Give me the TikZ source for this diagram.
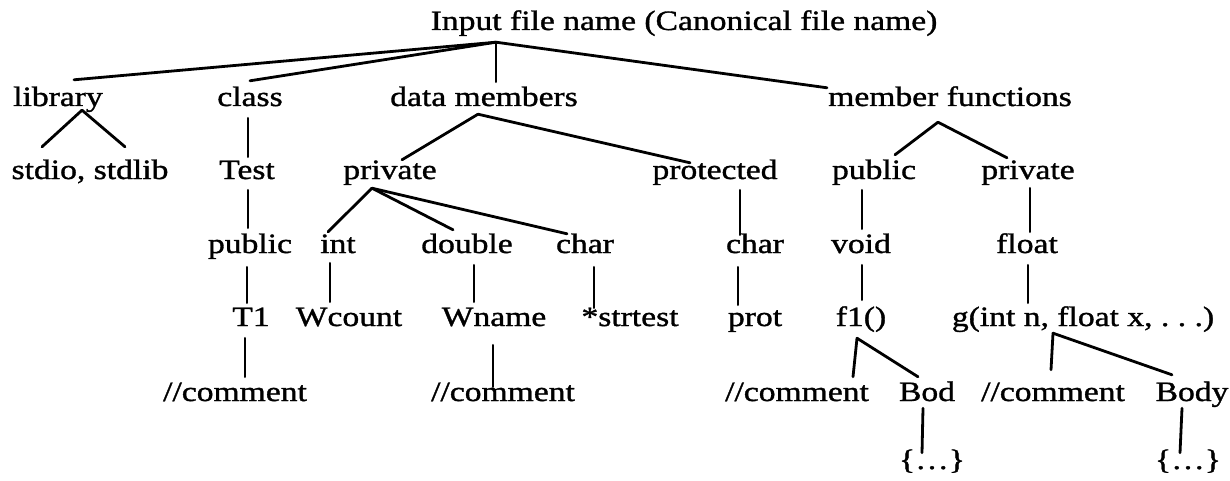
\documentclass[tikz,border=0pt]{standalone}
\usepackage{fontspec}
\setmainfont[FakeStretch=1.2,FakeBold=1.2]{Liberation Serif}
\tikzset{
  lbl/.style={font=\fontsize{28}{33}\selectfont\frenchspacing, inner sep=0pt, text height=23pt, text depth=7pt, anchor=base},
  edge/.style={line width=2.8pt, line cap=round, line join=round}
}
\begin{document}
\begin{tikzpicture}[x=1pt,y=-1pt]
\useasboundingbox (0,0) rectangle (1230,481);
% level 0
\node[lbl] (root) at (684,30) {Input file name (Canonical file name)};
% level 1
\node[lbl] (library) at (58,106) {library};
\node[lbl] (class) at (250,106) {class};
\node[lbl] (datam) at (484,106) {data members};
\node[lbl] (memf) at (950,106) {member functions};
% level 2
\node[lbl] (stdio) at (90,179) {stdio, stdlib};
\node[lbl] (test) at (247,179) {Test};
\node[lbl] (priv1) at (390,179) {private};
\node[lbl] (prot1) at (715,179) {protected};
\node[lbl] (pub2) at (874,179) {public};
\node[lbl] (priv2) at (1028,179) {private};
% level 3
\node[lbl] (pub3) at (250,253) {public};
\node[lbl] (int) at (338,253) {int};
\node[lbl] (double) at (467,253) {double};
\node[lbl] (char1) at (585,253) {char};
\node[lbl] (char2) at (755,253) {char};
\node[lbl] (void) at (861,253) {void};
\node[lbl] (float) at (1027,253) {float};
% level 4
\node[lbl] (t1) at (251,326) {T1};
\node[lbl] (wcount) at (349,326) {Wcount};
\node[lbl] (wname) at (494,326) {Wname};
\node[lbl] (strtest) at (630,326) {*strtest};
\node[lbl] (prot) at (755,326) {prot};
\node[lbl] (f1) at (861,326) {f1()};
\node[lbl] (g) at (1083,326) {g(int n, float x, . . .)};
% level 5
\node[lbl] (com1) at (235,401) {//comment};
\node[lbl] (com2) at (503,401) {//comment};
\node[lbl] (com3) at (797,401) {//comment};
\node[lbl] (bod) at (927,401) {Bod};
\node[lbl] (com4) at (1053,401) {//comment};
\node[lbl] (body) at (1192,401) {Body};
% level 6
\node[lbl] (br1) at (932,469) {\{\ldots\}};
\node[lbl] (br2) at (1188,469) {\{\ldots\}};
% junctions
\coordinate (j0) at ([xshift=-188pt,yshift=-5pt]root.south);
\coordinate (jlib) at ([xshift=24pt,yshift=3pt]library.south);
\coordinate (jdat) at ([xshift=-6pt,yshift=-1pt]datam.south);
\coordinate (jmem) at ([xshift=-12pt,yshift=-9pt]memf.south);
\coordinate (jpriv) at ([xshift=-18pt,yshift=-2pt]priv1.south);
\coordinate (jf1) at ([xshift=-4pt,yshift=-5pt]f1.south);
\coordinate (jg) at ([xshift=-30pt]g.south);
% level 0 -> 1
\draw[edge] (j0) -- ([xshift=16pt,yshift=3pt]library.north);
\draw[edge] (j0) -- ([yshift=2pt]class.north);
\draw[edge] (j0) -- ([xshift=12pt,yshift=1pt]datam.north);
\draw[edge] (j0) -- ([xshift=-123pt,yshift=-5pt]memf.north);
% level 1 -> 2
\draw[edge] (jlib) -- ([xshift=-48pt,yshift=9pt]stdio.north);
\draw[edge] (jlib) -- ([xshift=35pt,yshift=9pt]stdio.north);
\draw[edge] ([xshift=-2pt,yshift=-5pt]class.south) -- ([xshift=1pt,yshift=-1pt]test.north);
\draw[edge] (jdat) -- ([xshift=12pt,yshift=-4pt]priv1.north);
\draw[edge] (jdat) -- ([xshift=-25pt,yshift=-7pt]prot1.north);
\draw[edge] (jmem) -- ([xshift=21pt,yshift=1pt]pub2.north);
\draw[edge] (jmem) -- ([xshift=-21pt,yshift=-2pt]priv2.north);
% level 2 -> 3
\draw[edge] ([xshift=1pt,yshift=-4pt]test.south) -- ([xshift=-2pt,yshift=2pt]pub3.north);
\draw[edge] (jpriv) -- ([xshift=-10pt,yshift=-2pt]int.north);
\draw[edge] (jpriv) -- ([xshift=-14pt]double.north);
\draw[edge] (jpriv) -- ([xshift=-18pt,yshift=-4pt]char1.north);
\draw[edge] ([xshift=25pt,yshift=-4pt]prot1.south) -- ([xshift=-15pt,yshift=-5pt]char2.north);
\draw[edge] ([xshift=-12pt,yshift=-4pt]pub2.south) -- ([xshift=1pt,yshift=1pt]void.north);
\draw[edge] ([xshift=2pt,yshift=-2pt]priv2.south) -- ([xshift=3pt,yshift=-2pt]float.north);
% level 3 -> 4
\draw[edge] ([xshift=-3pt,yshift=-7pt]pub3.south) -- ([xshift=-4pt]t1.north);
\draw[edge] ([xshift=-8pt,yshift=-3pt]int.south) -- ([xshift=-19pt,yshift=1pt]wcount.north);
\draw[edge] ([xshift=7pt,yshift=-5pt]double.south) -- ([xshift=-20pt,yshift=1pt]wname.north);
\draw[edge] ([xshift=9pt,yshift=-7pt]char1.south) -- ([xshift=-36pt,yshift=-5pt]strtest.north);
\draw[edge] ([xshift=-17pt,yshift=-7pt]char2.south) -- ([xshift=-17pt,yshift=-2pt]prot.north);
\draw[edge] ([xshift=1pt,yshift=-5pt]void.south) -- ([xshift=1pt,yshift=3pt]f1.north);
\draw[edge] ([xshift=1pt,yshift=-5pt]float.south) -- ([xshift=-55pt]g.north);
% level 4 -> 5
\draw[edge] ([xshift=-6pt,yshift=-5pt]t1.south) -- ([xshift=10pt,yshift=1pt]com1.north);
\draw[edge] ([xshift=-1pt,yshift=-12pt]wname.south) -- ([xshift=-10pt,yshift=-9pt]com2.north);
\draw[edge] (jf1) -- ([xshift=56pt,yshift=1pt]com3.north);
\draw[edge] (jf1) -- ([xshift=-9pt,yshift=1pt]bod.north);
\draw[edge] (jg) -- ([xshift=-2pt,yshift=8pt]com4.north);
\draw[edge] (jg) -- ([xshift=-20pt,yshift=3pt]body.north);
% level 5 -> 6
\draw[edge] ([xshift=-4pt]bod.south) -- ([xshift=-10pt,yshift=-7pt]br1.north);
\draw[edge] ([xshift=-10pt]body.south) -- ([xshift=-8pt,yshift=-7pt]br2.north);
\end{tikzpicture}
\end{document}
